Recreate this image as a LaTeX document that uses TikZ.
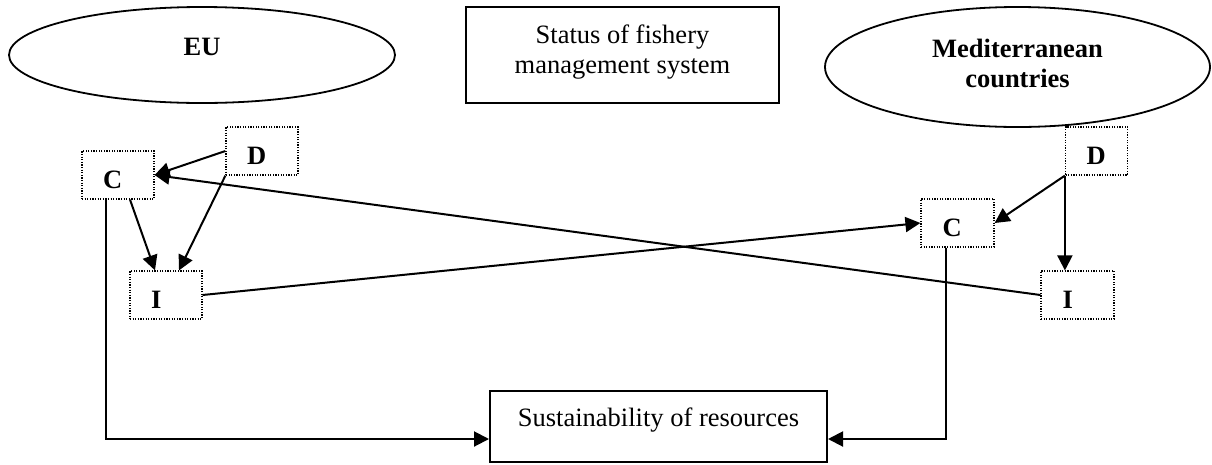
\documentclass[tikz,border=0pt]{standalone}
\usepackage{fontspec}
\setmainfont{Liberation Serif}
\usetikzlibrary{shapes.geometric,arrows.meta}
\begin{document}
\begin{tikzpicture}[x=1pt,y=-1pt,
  every node/.style={font=\fontsize{26.5}{30}\selectfont},
  oval/.style={draw,ellipse,line width=1.8pt,inner sep=0pt,font=\fontsize{26.5}{30}\selectfont\bfseries,align=center},
  plainbox/.style={draw,rectangle,line width=2pt,inner sep=0pt,align=center},
  dotbox/.style={draw,rectangle,line width=1.2pt,dash pattern=on 1.2pt off 1.4pt,inner xsep=0pt,inner ysep=0pt,minimum height=48pt,text width=30pt,align=left,text height=26pt,text depth=0pt,font=\fontsize{26.5}{30}\selectfont\bfseries},
  arr/.style={line width=2pt,-{Triangle[length=15pt,width=15pt]}}
]
\path[use as bounding box] (0,0) rectangle (1212,464);

\node[oval,minimum width=386pt,minimum height=96pt,text height=18pt,text depth=18pt] (eu) at (202,55) {EU};
\node[plainbox,minimum width=313pt,minimum height=96pt] (status) at (622.5,55) {Status of fishery\\management system\rule[-12pt]{0pt}{12pt}};
\node[oval,minimum width=385pt,minimum height=120pt] (med) at (1017.5,67) {Mediterranean\\countries\rule[-8pt]{0pt}{8pt}};
\node[plainbox,minimum width=337pt,minimum height=71pt,text height=18pt,text depth=18pt] (sus) at (658.5,426.5) {Sustainability of resources};

\node[dotbox,minimum width=72pt] (lc) at (118,175) {C};
\node[dotbox,minimum width=72pt] (ld) at (262,151) {D};
\node[dotbox,minimum width=72pt] (li) at (166,295) {I};
\node[dotbox,minimum width=62pt,text width=20pt] (rd) at (1096.5,151) {D};
\node[dotbox,minimum width=73pt] (rc) at (957.5,223) {C};
\node[dotbox,minimum width=73pt] (ri) at (1077.5,295) {I};

\draw[arr] (ld.west) -- (lc.east);
\draw[arr] (ld.south west) -- ([xshift=13pt]li.north);
\draw[arr] ([xshift=12pt]lc.south) -- ([xshift=-11pt]li.north);
\draw[arr] (ri.west) -- (lc.east);
\draw[arr] (li.east) -- (rc.west);
\draw[arr] (rd.south west) -- (rc.east);
\draw[arr] (rd.south west) -- (rd.south west |- ri.north);
\draw[arr] ([xshift=-12pt]lc.south) |- ([yshift=-12.5pt]sus.west);
\draw[arr] ([xshift=-11.5pt]rc.south) |- ([yshift=-12.5pt]sus.east);
\end{tikzpicture}
\end{document}
